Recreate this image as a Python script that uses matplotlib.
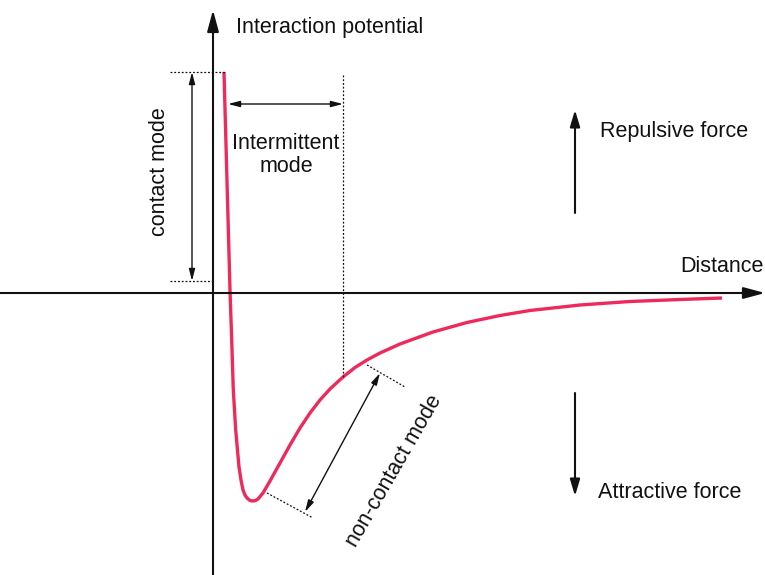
import matplotlib
matplotlib.use("Agg")
import matplotlib.pyplot as plt

plt.rcParams['font.family'] = ['Liberation Sans', 'DejaVu Sans']

# Curve (origin = axis crossing, units ~ pixels, y up)
distance = [11, 17, 18.7, 20.3, 22.7, 26, 28, 30, 32, 34, 37, 40, 42.5, 45, 50, 57, 67,
            77, 87, 97, 107, 117, 130, 142, 154, 167, 187, 220, 254, 287, 317, 367,
            417, 467, 509]
potential = [221, 3, -47, -97, -137, -174, -187, -197, -202, -205, -207.5, -208, -207.5,
             -206, -200, -188, -170, -152, -135, -120, -107, -96, -84, -74.5, -67, -60,
             -51, -39, -29.5, -22.5, -17.5, -12, -8.5, -6.5, -5]

ax_top = 283
ax_bottom = -282
x_left = -213
x_right = 552

fig = plt.figure(figsize=(7.65, 5.75), dpi=100)
ax = fig.add_axes([0, 0, 1, 1])
ax.set_xlim(x_left, x_right)
ax.set_ylim(ax_bottom, 293)
ax.axis('off')

black = '#111111'
fs = 15.5
# axes with arrows
ax.annotate('', xy=(0, ax_top), xytext=(0, ax_bottom),
            arrowprops=dict(arrowstyle='-|>,head_length=1.3,head_width=0.35', color=black, lw=1.5, shrinkA=0, shrinkB=0))
ax.annotate('', xy=(x_right, 0), xytext=(x_left, 0),
            arrowprops=dict(arrowstyle='-|>,head_length=1.3,head_width=0.35', color=black, lw=1.5, shrinkA=0, shrinkB=0))

# curve
ax.plot(distance, potential, color='#ee2a5c', lw=2.4, solid_capstyle='butt', solid_joinstyle='round')

dot = dict(color=black, lw=0.9, ls=(0, (1.5, 1.5)))
# contact mode
ax.plot([-43, 12], [221, 221], **dot)
ax.plot([-43, 0], [12, 12], **dot)
ax.annotate('', xy=(-21, 221), xytext=(-21, 12),
            arrowprops=dict(arrowstyle='<|-|>,head_length=0.7,head_width=0.18', color=black, lw=1.0, shrinkA=0, shrinkB=0))
ax.text(-53, 121, 'contact mode', rotation=90, ha='center', va='center', fontsize=fs, color=black)

# intermittent
ax.plot([130, 130], [218, -84], **dot)
ax.annotate('', xy=(15, 189), xytext=(130, 189),
            arrowprops=dict(arrowstyle='<|-|>,head_length=0.7,head_width=0.18', color=black, lw=1.0, shrinkA=0, shrinkB=0))
ax.text(73, 138, 'Intermittent\nmode', ha='center', va='center', fontsize=fs, color=black, linespacing=1.15)

# non-contact mode
ax.plot([54, 100], [-200, -225], **dot)
ax.plot([154, 192], [-72, -94], **dot)
ax.annotate('', xy=(167, -80), xytext=(92, -219),
            arrowprops=dict(arrowstyle='<|-|>,head_length=0.7,head_width=0.18', color=black, lw=1.0, shrinkA=0, shrinkB=0))
ax.text(181, -178, 'non-contact mode', rotation=60, ha='center', va='center', fontsize=fs, color=black,
        rotation_mode='anchor')

# forces
ax.annotate('', xy=(362, 183), xytext=(362, 80),
            arrowprops=dict(arrowstyle='-|>,head_length=1.0,head_width=0.3', color=black, lw=1.5, shrinkA=0, shrinkB=0))
ax.text(387, 161, 'Repulsive force', ha='left', va='center', fontsize=fs, color=black)
ax.annotate('', xy=(362, -203), xytext=(362, -100),
            arrowprops=dict(arrowstyle='-|>,head_length=1.0,head_width=0.3', color=black, lw=1.5, shrinkA=0, shrinkB=0))
ax.text(385, -200, 'Attractive force', ha='left', va='center', fontsize=fs, color=black)

ax.text(23, 265, 'Interaction potential', ha='left', va='center', fontsize=fs, color=black)
ax.text(467, 26, 'Distance', ha='left', va='center', fontsize=fs, color=black)

fig.savefig('out.png', dpi=100)
